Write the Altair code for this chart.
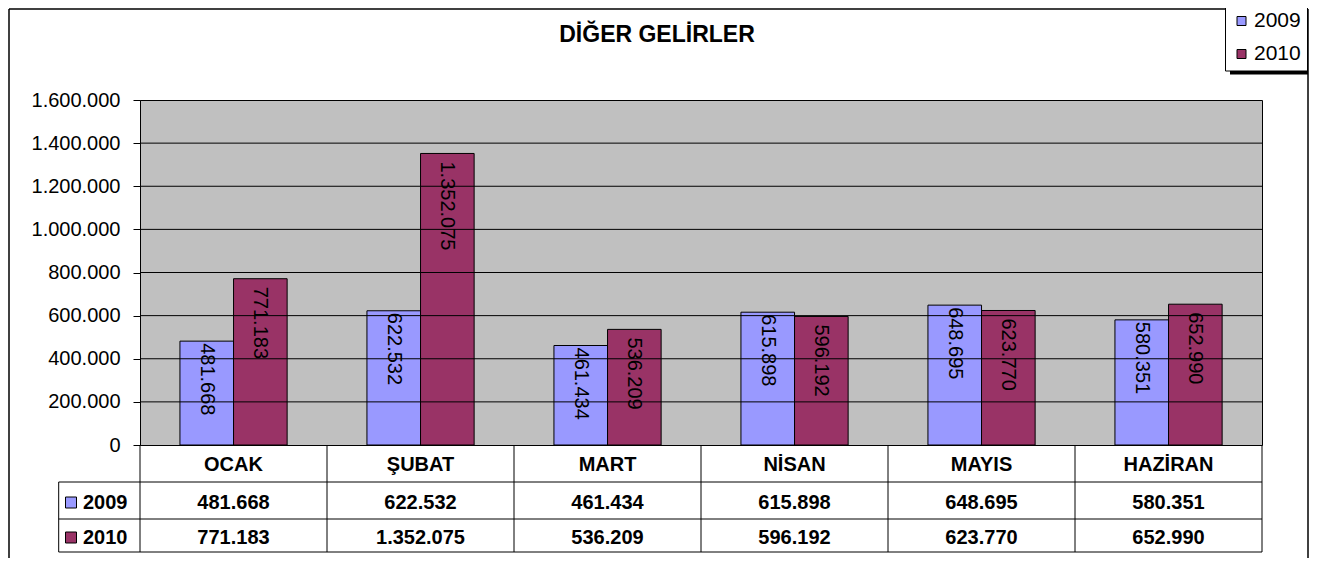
import altair as alt
import pandas as pd

# ---- data -------------------------------------------------------------
months = ["OCAK", "ŞUBAT", "MART", "NİSAN", "MAYIS", "HAZİRAN"]
years = ["2009", "2010"]
values_2009 = [481668, 622532, 461434, 615898, 648695, 580351]
values_2010 = [771183, 1352075, 536209, 596192, 623770, 652990]
y_ticks = [0, 200000, 400000, 600000, 800000, 1000000, 1200000, 1400000, 1600000]
colors = ["#9999FF", "#993366"]
title_text = "DİĞER GELİRLER"

# ---- layout constants ---------------------------------------------------
W, H = 1122, 345            # plot area (px)
YMAX = 1600000
N = len(months)
CAT_PX = W / N
BAR_PAD = 0.2136            # gap before first bar (fraction of category)
BAR_W = 0.2866              # bar width (fraction of category)
FONT = "Liberation Sans, Arial, sans-serif"
FS = 20


def ux(px):                 # px from plot left -> x units
    return px / CAT_PX


def uy(px):                 # px from plot top -> y units
    return YMAX * (1 - px / H)


def tr_fmt(v):
    return f"{v:,}".replace(",", ".")


rows = []
for i, m in enumerate(months):
    for k, (yr, vals) in enumerate(zip(years, [values_2009, values_2010])):
        x0 = i + BAR_PAD + k * BAR_W
        rows.append(dict(month=m, idx=i, year=yr, value=vals[i], base=0, label=tr_fmt(vals[i]),
                         x0=x0, x1=x0 + BAR_W, xc=x0 + BAR_W / 2, xcat=i + 0.5))
df = pd.DataFrame(rows)

# table geometry (px below plot top)
r0, r1, r2, r3 = H, H + 37, H + 74, H + 107
LBL_L = -81.3
hdr_y = (r0 + r1) / 2 + 1
row_y = {"2009": (r1 + r2) / 2 + 2, "2010": (r2 + r3) / 2 + 2}

df_months = pd.DataFrame({"month": months, "xcat": [i + 0.5 for i in range(N)],
                          "ty": [uy(hdr_y)] * N})
df["ty"] = [uy(row_y[y]) for y in df["year"]]
df_rowhdr = pd.DataFrame({"year": years,
                          "sx": [ux(-69)] * 2, "tx": [ux(-57)] * 2,
                          "ty": [uy(row_y[y]) for y in years]})
df_title = pd.DataFrame({"t": [title_text], "x": [ux(517)], "y": [uy(-58.3)]})
df_shadow = pd.DataFrame({"x": [ux(1090)], "x2": [ux(1168)], "y": [uy(-92)], "y2": [uy(-25.5)]})

lines = []
for b in range(N + 1):
    lines.append(dict(x=b, x2=b, y=uy(r0), y2=uy(r3)))
lines.append(dict(x=ux(LBL_L), x2=ux(LBL_L), y=uy(r1), y2=uy(r3)))
for yy in [r1, r2, r3]:
    lines.append(dict(x=ux(LBL_L), x2=N, y=uy(yy), y2=uy(yy)))
for t in y_ticks[1:-1]:
    lines.append(dict(x=0, x2=N, y=t, y2=t))
df_lines = pd.DataFrame(lines)

frame = [dict(x=ux(-131), x2=ux(-131), y=uy(-91), y2=uy(H + 113)),
         dict(x=ux(1168), x2=ux(1168), y=uy(-91), y2=uy(H + 113)),
         dict(x=ux(-131), x2=ux(1168), y=uy(-91), y2=uy(-91))]
df_frame = pd.DataFrame(frame)

xscale = alt.Scale(domain=[0, N], nice=False, zero=False)
yscale = alt.Scale(domain=[0, YMAX], nice=False, zero=False)
yaxis = alt.Axis(values=y_ticks, grid=False, tickSize=7, labelPadding=13,
                 labelExpr="replace(format(datum.value, ',d'), /,/g, '.')",
                 labelFontSize=FS, labelFont=FONT, labelColor="black",
                 tickColor="black", domainColor="black", title=None)


def X(f):
    return alt.X(f, scale=xscale, axis=None, title=None)


def Y(f):
    return alt.Y(f, scale=yscale, axis=yaxis, title=None)


bars = alt.Chart(df).mark_rect(stroke="black", strokeWidth=1).encode(
    x=X("x0:Q"), x2="x1:Q",
    y=Y("value:Q"), y2="base:Q",
    color=alt.Color("year:N", scale=alt.Scale(domain=years, range=colors),
                    legend=alt.Legend(orient="none", legendX=1085, legendY=-95.5, title=None,
                                      symbolType="square", symbolSize=81,
                                      symbolStrokeColor="black", symbolStrokeWidth=1,
                                      labelFontSize=21, labelFont=FONT, labelColor="black",
                                      rowPadding=11, padding=6, labelOffset=2,
                                      fillColor="white", strokeColor="black")),
)

shadow = alt.Chart(df_shadow).mark_rect(color="black", opacity=1).encode(
    x=X("x:Q"), x2="x2:Q", y=Y("y:Q"), y2="y2:Q")

rules = alt.Chart(df_lines).mark_rule(color="black", strokeWidth=1).encode(
    x=X("x:Q"), x2="x2:Q", y=Y("y:Q"), y2="y2:Q")

frame_rules = alt.Chart(df_frame).mark_rule(color="black", strokeWidth=1.5).encode(
    x=X("x:Q"), x2="x2:Q", y=Y("y:Q"), y2="y2:Q")

labels = []
for yr, dx in zip(years, [2, 8]):
    labels.append(
        alt.Chart(df[df.year == yr]).mark_text(angle=90, align="left", baseline="middle",
                                               dx=dx, fontSize=FS, font=FONT, color="black").encode(
            x=X("xc:Q"), y=Y("value:Q"), text="label:N")
    )

header = alt.Chart(df_months).mark_text(fontSize=FS, font=FONT, fontWeight="bold",
                                        color="black", baseline="middle").encode(
    x=X("xcat:Q"), y=Y("ty:Q"), text="month:N")

cells = alt.Chart(df).mark_text(fontSize=FS, font=FONT, fontWeight="bold",
                                color="black", baseline="middle").encode(
    x=X("xcat:Q"), y=Y("ty:Q"), text="label:N")

row_sym = alt.Chart(df_rowhdr).mark_square(size=121, filled=True, opacity=1,
                                           stroke="black", strokeWidth=1).encode(
    x=X("sx:Q"), y=Y("ty:Q"),
    color=alt.Color("year:N", scale=alt.Scale(domain=years, range=colors), legend=None))

row_txt = alt.Chart(df_rowhdr).mark_text(fontSize=FS, font=FONT, fontWeight="bold",
                                         color="black", align="left", baseline="middle").encode(
    x=X("tx:Q"), y=Y("ty:Q"), text="year:N")

title = alt.Chart(df_title).mark_text(fontSize=23, font=FONT, fontWeight="bold", color="black",
                                      align="center", baseline="alphabetic").encode(
    x=X("x:Q"), y=Y("y:Q"), text="t:N")

chart = alt.layer(
    shadow, bars, rules, *labels, header, cells, row_sym, row_txt, frame_rules, title
).properties(
    width=W, height=H,
    autosize=alt.AutoSizeParams(type="none"),
    padding={"left": 132, "top": 92, "right": 48, "bottom": 113},
    background="white",
).configure_view(
    stroke="black", strokeWidth=1, fill="#C0C0C0"
)

chart.save("out.html", embed_options={"renderer": "svg", "actions": False})
